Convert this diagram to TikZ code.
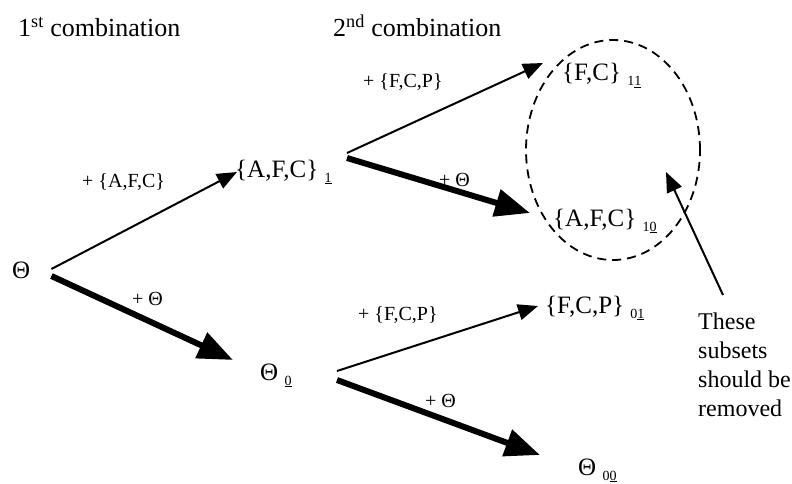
\documentclass[tikz,border=0pt]{standalone}
\usepackage{fontspec}
\setmainfont{Liberation Serif}
\usetikzlibrary{arrows.meta,shapes.geometric}
\newcommand{\subidx}[2]{\raisebox{-5pt}{\fontsize{14}{16}\selectfont #1\underline{#2}}}

\begin{document}
\begin{tikzpicture}[x=1pt,y=-1pt,
  set/.style={inner sep=0pt, anchor=base west, font=\fontsize{25}{30}\selectfont},
  head/.style={inner sep=0pt, anchor=base west, font=\fontsize{26}{30}\selectfont},
  lab/.style={inner sep=0pt, anchor=base west, font=\fontsize{20}{24}\selectfont},
  addset/.style={line width=2pt, -{Triangle[length=20pt,width=16pt]}},
  addall/.style={line width=6pt, -{Triangle[length=35pt,width=27pt]}}]
 \useasboundingbox (0,0) rectangle (792,484);
 % column headings
 \node[head] (hd1) at (18,37) {1\textsuperscript{st} combination};
 \node[head] (hd2) at (333,37) {2\textsuperscript{nd} combination};
 % subsets
 \node[set] (root) at (12,278) {Θ};
 \node[set] (a1) at (235,177) {\{A,F,C\} \subidx{}{1}};
 \node[set] (a0) at (260,380) {Θ \subidx{}{0}};
 \node[set] (a11) at (562,81) {\{F,C\} \subidx{1}{1}};
 \node[set] (a10) at (553,226) {\{A,F,C\} \subidx{1}{0}};
 \node[set] (a01) at (545,313) {\{F,C,P\} \subidx{0}{1}};
 \node[set] (a00) at (578,475) {Θ \subidx{0}{0}};
 \node[draw, ellipse, line width=1.8pt, dash pattern=on 9pt off 6pt, inner sep=0pt,
   minimum width=174pt, minimum height=220pt] (rmv) at (613,150) {};
 % edge labels
 \node[lab] (lAFC) at (82,187) {+ \{A,F,C\}};
 \node[lab] (lTh1) at (132,305) {+ Θ};
 \node[lab] (lFCP1) at (363,88) {+ \{F,C,P\}};
 \node[lab] (lTh2) at (439,186) {+ Θ};
 \node[lab] (lFCP2) at (358,320) {+ \{F,C,P\}};
 \node[lab] (lTh3) at (425,407) {+ Θ};
 % branches
 \draw[addset] ([shift={(21,-9)}]root.base east) -- ([shift={(2,-5)}]a1.base west);
 \draw[addall] ([shift={(21,-2)}]root.base east) -- ([shift={(-27,-20)}]a0.base west);
 \draw[addset] ([shift={(112,-24)}]a1.base west) -- ([shift={(-19,-18)}]a11.base west);
 \draw[addall] ([shift={(112,-19)}]a1.base west) -- ([shift={(-23,-13)}]a10.base west);
 \draw[addset] ([shift={(77,-9)}]a0.base west) -- ([shift={(-7,-7)}]a01.base west);
 \draw[addall] ([shift={(77,0)}]a0.base west) -- ([shift={(-38,-20)}]a00.base west);
 % remark
 \node[set, anchor=north west, align=left, font=\fontsize{24}{29}\selectfont] (note)
   at (698,313) {These\\subsets\\should be\\removed};
 \draw[addset] ([shift={(25,-18)}]note.north west) -- ([shift={(53,22)}]rmv.center);
\end{tikzpicture}
\end{document}
